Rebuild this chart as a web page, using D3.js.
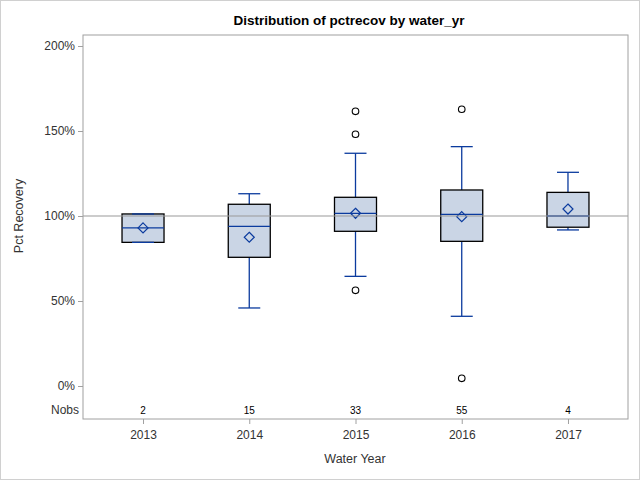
<!DOCTYPE html>
<html><head><meta charset="utf-8">
<script src="https://cdn.jsdelivr.net/npm/d3@7"></script>
<style>body{margin:0;background:#fff}svg{display:block;font-family:Arial,"Liberation Sans",sans-serif}</style>
</head><body>
<script>
const years = ["2013","2014","2015","2016","2017"];
const nobs = [2, 15, 33, 55, 4];
const q1 =     [84.5, 75.7, 91.0, 85.1, 93.4];
const median = [93.0, 93.9, 101.6, 101.0, 100.0];
const q3 =     [101.2, 106.9, 111.0, 115.3, 113.9];
const mean =   [93.0, 87.5, 101.6, 99.6, 104.1];
const whiskLo = [84.5, 45.9, 64.5, 41.0, 91.8];
const whiskHi = [101.2, 113.1, 136.9, 140.8, 125.7];
const outliers = [[], [], [161.6, 148.1, 56.3], [162.8, 4.5], []];
const yTicks = [0, 50, 100, 150, 200];

const W = 640, H = 480;
const m = {left: 83, right: 628, top: 35, bottom: 419};
const svg = d3.select("body").append("svg").attr("width", W).attr("height", H);

svg.append("rect").attr("x", 0.5).attr("y", 0.5).attr("width", W - 1).attr("height", H - 1)
  .attr("fill", "#fff").attr("stroke", "#d0d0d0");

const x = d3.scalePoint().domain(years).range([m.left, m.right]).padding(0.565);
const y = d3.scaleLinear().domain([0, 200]).range([386, 46]);

const blue = "#0b3b9e", fill = "#cad5e5";

// title
svg.append("text").attr("x", 349).attr("y", 25).attr("text-anchor", "middle")
  .attr("font-size", 13.5).attr("font-weight", "bold").text("Distribution of pctrecov by water_yr");

// boxes
const bw = 42, cw = 22;
const data = years.map((yr, i) => ({yr, i}));
const g = svg.append("g");
data.forEach(d => {
  const cx = x(d.yr), i = d.i;
  const gg = g.append("g");
  gg.append("line").attr("x1", cx).attr("x2", cx).attr("y1", y(q3[i])).attr("y2", y(whiskHi[i])).attr("stroke", blue).attr("stroke-width", 1.3);
  gg.append("line").attr("x1", cx).attr("x2", cx).attr("y1", y(q1[i])).attr("y2", y(whiskLo[i])).attr("stroke", blue).attr("stroke-width", 1.3);
  gg.append("rect").attr("x", cx - bw/2).attr("y", y(q3[i])).attr("width", bw).attr("height", y(q1[i]) - y(q3[i]))
    .attr("fill", fill).attr("stroke", "#000").attr("stroke-width", 1.3);
  [whiskHi[i], whiskLo[i]].forEach(v => {
    gg.append("line").attr("x1", cx - cw/2).attr("x2", cx + cw/2).attr("y1", y(v)).attr("y2", y(v)).attr("stroke", blue).attr("stroke-width", 1.3);
  });
  gg.append("line").attr("x1", cx - bw/2).attr("x2", cx + bw/2).attr("y1", y(median[i])).attr("y2", y(median[i])).attr("stroke", blue).attr("stroke-width", 1.3);
  const my = y(mean[i]), s = 5;
  gg.append("path").attr("d", `M${cx},${my - s}L${cx + s},${my}L${cx},${my + s}L${cx - s},${my}Z`)
    .attr("fill", "none").attr("stroke", blue).attr("stroke-width", 1.2);
  outliers[i].forEach(v => {
    gg.append("circle").attr("cx", cx).attr("cy", y(v)).attr("r", 3.3).attr("fill", "none").attr("stroke", "#000").attr("stroke-width", 1.1);
  });
});

// reference line at 100%
svg.append("line").attr("x1", m.left).attr("x2", m.right).attr("y1", y(100)).attr("y2", y(100))
  .attr("stroke", "#999").attr("stroke-width", 1.2);

// frame
svg.append("rect").attr("x", m.left).attr("y", m.top).attr("width", m.right - m.left).attr("height", m.bottom - m.top)
  .attr("fill", "none").attr("stroke", "#a0a0a0").attr("stroke-width", 1);

// y axis
const yAxis = d3.axisLeft(y).tickValues(yTicks).tickFormat(d => d + "%").tickSize(5).tickPadding(3);
const ya = svg.append("g").attr("transform", `translate(${m.left},0)`).call(yAxis);
ya.select(".domain").remove();
ya.selectAll(".tick line").attr("stroke", "#a0a0a0");
ya.selectAll("text").attr("font-size", 12).attr("font-family", "Arial,'Liberation Sans',sans-serif").attr("fill", "#333");

// x axis
const xAxis = d3.axisBottom(x).tickSize(5).tickPadding(6);
const xa = svg.append("g").attr("transform", `translate(0,${m.bottom})`).call(xAxis);
xa.select(".domain").remove();
xa.selectAll(".tick line").attr("stroke", "#a0a0a0");
xa.selectAll("text").attr("font-size", 12).attr("font-family", "Arial,'Liberation Sans',sans-serif").attr("fill", "#333");

// Nobs row
svg.append("text").attr("x", 79).attr("y", 414).attr("text-anchor", "end").attr("font-size", 12).attr("fill", "#333").text("Nobs");
svg.selectAll(".nobs").data(data).enter().append("text").attr("class", "nobs")
  .attr("x", d => x(d.yr)).attr("y", 414).attr("text-anchor", "middle").attr("font-size", 10).attr("fill", "#000")
  .text(d => nobs[d.i]);

// axis labels
svg.append("text").attr("x", 355).attr("y", 463).attr("text-anchor", "middle").attr("font-size", 12.5).attr("fill", "#333").text("Water Year");
svg.append("text").attr("transform", "translate(23,216) rotate(-90)").attr("text-anchor", "middle").attr("font-size", 12.5).attr("fill", "#333").text("Pct Recovery");
</script>
</body></html>
